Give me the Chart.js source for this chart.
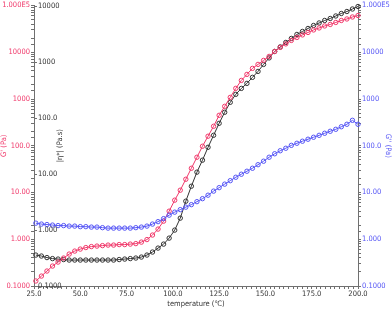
<!DOCTYPE html>
<html>
<head>
<meta charset="utf-8">
<script src="https://cdn.jsdelivr.net/npm/chart.js@4"></script>
<style>
  html, body { margin: 0; padding: 0; background: #fff; }
  #wrap { width: 392px; height: 310px; }
</style>
</head>
<body>
<div id="wrap"><canvas id="rheoChart" width="392" height="310"></canvas></div>
<script>
// temperature sweep, one reading every 3 degC
const temperatures = [26, 29, 32, 35, 38, 41, 44, 47, 50, 53, 56, 59, 62, 65, 68, 71, 74, 77, 80, 83,
  86, 89, 92, 95, 98, 101, 104, 107, 110, 113, 116, 119, 122, 125, 128, 131, 134, 137, 140, 143,
  146, 149, 152, 155, 158, 161, 164, 167, 170, 173, 176, 179, 182, 185, 188, 191, 194, 197, 200]

// G' (Pa)
const storageModulus = [0.128, 0.163, 0.209, 0.267, 0.325, 0.396, 0.482, 0.558, 0.616, 0.664,
  0.697, 0.714, 0.731, 0.750, 0.750, 0.769, 0.769, 0.787, 0.807, 0.869,
  0.984, 1.23, 1.65, 2.44, 3.99, 6.85, 11.2, 19.2, 33.0, 56.8,
  97.5, 160, 261, 448, 697, 1084, 1690, 2500, 3360, 4520,
  5500, 6690, 8150, 10400, 12700, 15100, 17900, 20700, 23500, 26500,
  30000, 33100, 36500, 39300, 43400, 47800, 51500, 56800, 61100]

// |eta*| (Pa.s)
const complexViscosity = [0.356, 0.342, 0.321, 0.308, 0.302, 0.296, 0.290, 0.290, 0.290, 0.290,
  0.290, 0.290, 0.290, 0.290, 0.290, 0.296, 0.302, 0.308, 0.315, 0.328,
  0.356, 0.403, 0.474, 0.558, 0.714, 0.991, 1.62, 3.25, 6.01, 10.7,
  17.5, 29.7, 48.6, 79.4, 125, 188, 261, 333, 409, 524,
  669, 891, 1164, 1518, 1827, 2197, 2588, 3048, 3445, 3896,
  4404, 4883, 5411, 5869, 6504, 7206, 7819, 8660, 9600]

// G'' (Pa)
const lossModulus = [2.21, 2.11, 2.06, 2.01, 1.96, 1.96, 1.91, 1.91, 1.86, 1.86,
  1.82, 1.82, 1.77, 1.73, 1.73, 1.73, 1.73, 1.73, 1.77, 1.82,
  1.91, 2.11, 2.38, 2.76, 3.28, 3.80, 4.30, 4.86, 5.50, 6.37,
  7.38, 8.76, 10.7, 12.7, 15.1, 17.9, 21.2, 24.6, 28.5, 33.0,
  39.3, 46.7, 56.8, 67.4, 78.2, 88.4, 102, 113, 125, 138,
  152, 167, 185, 204, 225, 255, 288, 350, 288]

const modulusDecades = [0.1, 1, 10, 100, 1000, 10000, 100000]
const modulusLabels = ['0.1000', '1.000', '10.00', '100.0', '1000', '10000', '1.000E5']
const viscosityDecades = [0.1, 1, 10, 100, 1000, 10000]
const viscosityLabels = ['0.1000', '1.000', '10.00', '100.0', '1000', '10000']

const RED = '#f0386a'
const BLUE = '#5555f5'
const BLACK = '#333333'
const AXIS = '#707070'
const FONT = "'Liberation Sans Narrow', 'DejaVu Sans Condensed', 'Liberation Sans', sans-serif"
const FONT_SIZE = 7.5

function decadeLabel(values, labels) {
  return function (value) {
    const i = values.findIndex(v => Math.abs(v - value) / v < 1e-6)
    return i >= 0 ? labels[i] : ''
  }
}

function toPoints(ys) {
  return temperatures.map((t, i) => ({ x: t, y: ys[i] }))
}

function series(label, ys, color, axis) {
  return {
    label: label,
    data: toPoints(ys),
    yAxisID: axis,
    showLine: true,
    borderColor: color,
    borderWidth: 1,
    pointRadius: 2.2,
    pointBorderWidth: 1,
    pointBorderColor: color,
    pointBackgroundColor: 'rgba(0,0,0,0)',
    clip: false
  }
}

// the |eta*| axis shares the left edge; its labels sit inside the plot
const viscosityAxisPlugin = {
  id: 'viscosityAxis',
  afterDraw(chart) {
    const scale = chart.scales.yEta
    const { left, top, bottom } = chart.chartArea
    const ctx = chart.ctx
    ctx.save()
    ctx.font = FONT_SIZE + 'px ' + FONT
    ctx.fillStyle = BLACK
    ctx.strokeStyle = AXIS
    ctx.lineWidth = 1
    ctx.textBaseline = 'middle'
    ctx.textAlign = 'left'
    viscosityDecades.forEach((v, i) => {
      const y = Math.round(scale.getPixelForValue(v)) + 0.5
      ctx.beginPath()
      ctx.moveTo(left, y)
      ctx.lineTo(left + 3, y)
      ctx.stroke()
      ctx.fillText(viscosityLabels[i], left + 4, y)
    })
    ctx.translate(left + 26, (top + bottom) / 2)
    ctx.rotate(-Math.PI / 2)
    ctx.textAlign = 'center'
    ctx.fillText('|\u03b7*| (Pa.s)', 0, 0)
    ctx.restore()
  }
}

const logAxis = (position, color, title) => ({
  type: 'logarithmic',
  position: position,
  min: 0.1,
  max: 100000,
  afterFit: s => { s.width = 34 },
  border: { display: true, color: AXIS, width: 1 },
  grid: { drawOnChartArea: false, drawTicks: true, tickLength: 3, color: AXIS },
  ticks: {
    autoSkip: false,
    padding: 1,
    color: color,
    font: { family: FONT, size: FONT_SIZE },
    callback: decadeLabel(modulusDecades, modulusLabels)
  },
  title: {
    display: true,
    text: title,
    color: color,
    padding: { top: 0, bottom: 0 },
    font: { family: FONT, size: FONT_SIZE }
  }
})

new Chart(document.getElementById('rheoChart').getContext('2d'), {
  type: 'scatter',
  data: {
    datasets: [
      series("G''", lossModulus, BLUE, 'yG2'),
      series("G'", storageModulus, RED, 'yG'),
      series('|\u03b7*|', complexViscosity, BLACK, 'yEta')
    ]
  },
  options: {
    responsive: false,
    devicePixelRatio: 1,
    animation: false,
    layout: { padding: { top: 5, left: 0, right: 0, bottom: 0 } },
    plugins: {
      legend: { display: false },
      tooltip: { enabled: false }
    },
    scales: {
      x: {
        type: 'linear',
        min: 25,
        max: 200,
        afterFit: s => { s.height = 24 },
        border: { display: true, color: AXIS, width: 1 },
        grid: { drawOnChartArea: false, drawTicks: true, tickLength: 3, color: AXIS },
        ticks: {
          stepSize: 2.5,
          autoSkip: false,
          maxRotation: 0,
          padding: 1,
          color: BLACK,
          font: { family: FONT, size: FONT_SIZE },
          callback: v => (v % 25 === 0 ? v.toFixed(1) : '')
        },
        title: {
          display: true,
          text: 'temperature (\u2103)',
          color: BLACK,
          padding: { top: 0, bottom: 1 },
          font: { family: FONT, size: FONT_SIZE }
        }
      },
      yG: logAxis('left', RED, "G' (Pa)"),
      yG2: logAxis('right', BLUE, "G'' (Pa)"),
      yEta: {
        type: 'logarithmic',
        position: 'left',
        display: false,
        min: 0.1,
        max: 10000
      }
    }
  },
  plugins: [viscosityAxisPlugin]
})
</script>
</body>
</html>
